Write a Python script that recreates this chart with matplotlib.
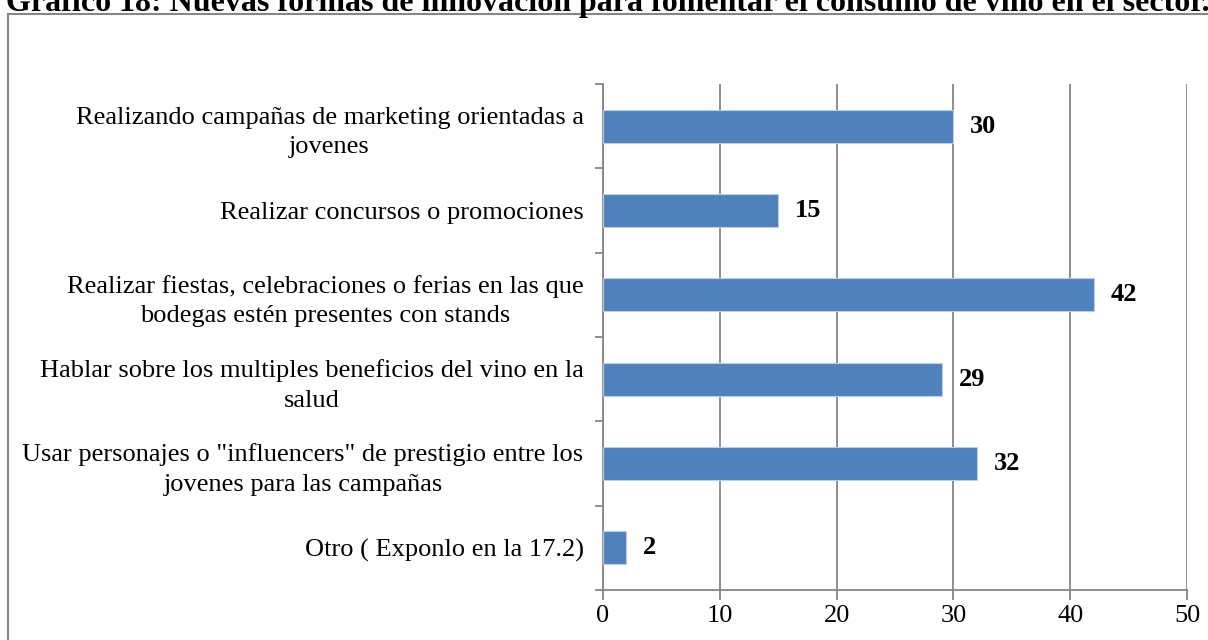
import matplotlib.pyplot as plt
from matplotlib.patches import Rectangle

plt.rcParams['font.family'] = ['Liberation Serif', 'DejaVu Serif']

categorias = [
    "Realizando campañas de marketing orientadas a\njovenes",
    "Realizar concursos o promociones",
    "Realizar fiestas, celebraciones o ferias en las que\nbodegas estén presentes con stands",
    "Hablar sobre los multiples beneficios del vino en la\nsalud",
    "Usar personajes o \"influencers\" de prestigio entre los\njovenes para las campañas",
    "Otro ( Exponlo en la 17.2)",
]
valores = [30, 15, 42, 29, 32, 2]
ticks_x = [0, 10, 20, 30, 40, 50]

titulo = "Gráfico 18: Nuevas formas de innovación para fomentar el consumo de vino en el sector."

gris = "#868686"
azul = "#4F81BD"

fig = plt.figure(figsize=(12.08, 6.4), dpi=100)
W, H = 1208, 640
ax = fig.add_axes([603 / W, 1 - 590 / H, (1187 - 603) / W, (590 - 84) / H])

n = len(categorias)
pos = list(range(n))[::-1]
ax.barh(pos, valores, height=0.39, color=azul, edgecolor="#B9CDE5", linewidth=0.8, zorder=3)

for p, v in zip(pos, valores):
    ax.annotate(str(v), (v, p), xytext=(12, 0), textcoords="offset points",
                va="center", ha="left", fontsize=19, fontweight="bold")

ax.set_xlim(0, 50)
ax.set_ylim(-0.5, n - 0.5)
ax.set_xticks(ticks_x)
ax.set_xticklabels([str(t) for t in ticks_x], fontsize=19)
ax.xaxis.grid(True, color=gris, linewidth=1.3, zorder=0)

# etiquetas de categoría, líneas centradas entre sí; ticks en los límites de cada fila
ax.set_yticks(pos)
ax.set_yticklabels(categorias, fontsize=19, ha="right", multialignment="center", linespacing=1.45)
ax.tick_params(axis="y", length=0, pad=14)
ax.set_yticks([i - 0.5 for i in range(n + 1)], minor=True)
ax.tick_params(axis="y", which="minor", length=6, color=gris, width=1.3)
ax.tick_params(axis="x", length=7, color=gris, width=1.3, pad=4)

for s in ["top", "right"]:
    ax.spines[s].set_visible(False)
for s in ["left", "bottom"]:
    ax.spines[s].set_color(gris)
    ax.spines[s].set_linewidth(1.3)

# marco exterior del gráfico
fig.patches.append(Rectangle((8 / W, -0.1), 1.2, 1 - 14 / H + 0.1, transform=fig.transFigure,
                             fill=False, edgecolor=gris, linewidth=1.5))

fig.text(6 / W, 1 - 11 / H, titulo, ha="left", va="baseline", fontsize=23, fontweight="bold")

fig.savefig("out.png", dpi=100)
